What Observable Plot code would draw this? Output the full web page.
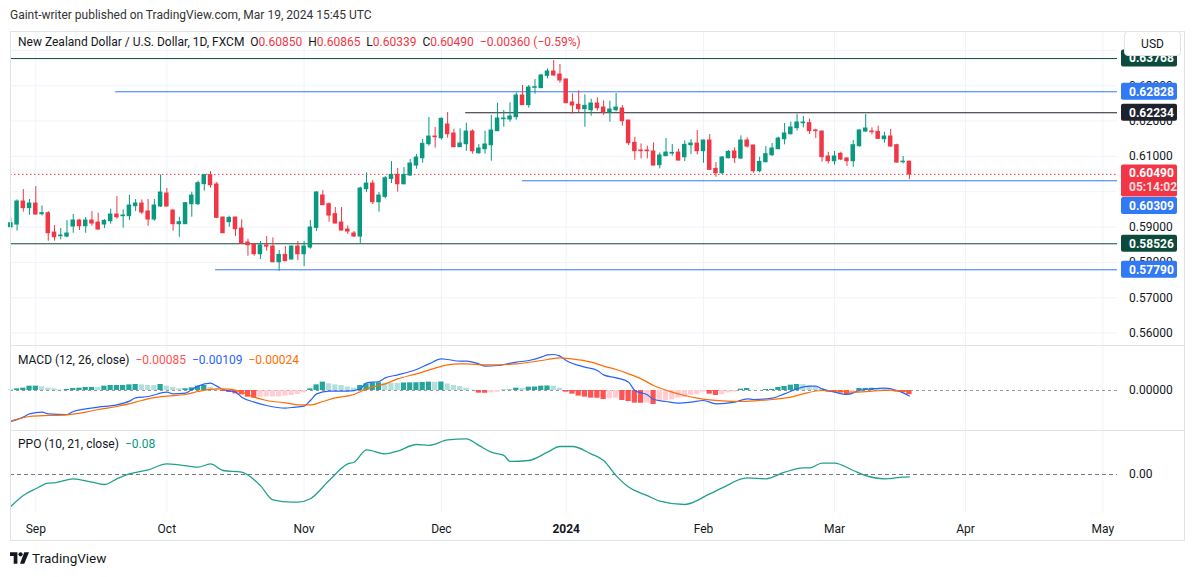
<!DOCTYPE html>
<html><head><meta charset="utf-8">
<script src="https://cdn.jsdelivr.net/npm/d3@7"></script>
<script src="https://cdn.jsdelivr.net/npm/@observablehq/plot@0.6"></script>
<style>
body{margin:0;background:#fff;font-family:Roboto,"Noto Sans",sans-serif;color:#131722;}
#root{position:relative;width:1195px;height:577px;overflow:hidden;background:#fff;}
.abs{position:absolute;white-space:nowrap;line-height:16px;}
.r{color:#f23645}
svg{overflow:visible}
</style></head><body><div id="root"></div>
<script>
// ---------- DATA ----------
const firstDate = "2023-08-28";
const holidays = ["2023-12-25", "2024-01-01"];
const monthTickDates = ["2023-09-01","2023-10-02","2023-11-01","2023-12-01","2024-01-02","2024-02-01","2024-03-01","2024-04-01","2024-05-01"];
const monthTickLabels = ["Sep","Oct","Nov","Dec","2024","Feb","Mar","Apr","May"];

const opens = [0.58995,0.59071,0.59722,0.59533,0.59665,0.59363,0.59391,0.58844,0.58740,0.58731,
0.59014,0.59184,0.59023,0.59184,0.59127,0.59071,0.59165,0.59354,0.59307,0.59307,
0.59590,0.59665,0.59439,0.59212,0.59580,0.59948,0.59467,0.59080,0.59080,0.59646,
0.59646,0.60213,0.60468,0.60203,0.59269,0.59137,0.59269,0.58957,0.58561,0.58504,
0.58230,0.58476,0.58447,0.58004,0.58211,0.58080,0.58447,0.58230,0.58419,0.58976,
0.59892,0.59646,0.59363,0.59127,0.58929,0.58816,0.58731,0.60070,0.60230,0.59702,
0.59853,0.60362,0.60476,0.60211,0.60457,0.60740,0.60948,0.61344,0.61561,0.61514,
0.61901,0.61646,0.61260,0.61344,0.61703,0.61089,0.61203,0.61316,0.61712,0.62052,
0.62043,0.62109,0.62722,0.62449,0.62940,0.62930,0.63279,0.63402,0.63317,0.63175,
0.62524,0.62458,0.62335,0.62307,0.62496,0.62382,0.62240,0.62307,0.62354,0.62014,
0.61382,0.61165,0.61165,0.61136,0.60750,0.61004,0.61080,0.61108,0.60976,0.61316,
0.61363,0.61146,0.61448,0.60645,0.60523,0.60947,0.61137,0.60939,0.61448,0.61307,
0.60580,0.60835,0.61033,0.61203,0.61486,0.61628,0.61798,0.61940,0.61940,0.61732,
0.61703,0.60996,0.60863,0.61071,0.60939,0.60863,0.61288,0.61703,0.61703,0.61694,
0.61486,0.61562,0.61316,0.60835,0.60850];
const highs = [0.59259,0.59769,0.60062,0.59779,0.60147,0.59599,0.59439,0.59042,0.58957,0.59184,
0.59354,0.59212,0.59269,0.59439,0.59391,0.59212,0.59505,0.59863,0.59486,0.59901,
0.59779,0.59769,0.59779,0.59779,0.60477,0.60090,0.59480,0.59278,0.59694,0.59986,
0.60298,0.60480,0.60571,0.60260,0.59278,0.59307,0.59278,0.59203,0.58655,0.58510,
0.58590,0.58731,0.58693,0.58334,0.58447,0.58460,0.58590,0.58590,0.59184,0.60005,
0.60033,0.59684,0.59552,0.59552,0.59033,0.58872,0.60128,0.60532,0.60315,0.59975,
0.60428,0.60853,0.60655,0.60683,0.60910,0.61052,0.61476,0.62099,0.61816,0.62090,
0.62240,0.61769,0.61778,0.61939,0.61750,0.61335,0.61712,0.62156,0.62505,0.62298,
0.62515,0.62798,0.63006,0.63006,0.63176,0.63317,0.63478,0.63713,0.63600,0.63190,
0.62769,0.62854,0.62741,0.62618,0.62656,0.62571,0.62562,0.62779,0.62439,0.62020,
0.61542,0.61353,0.61287,0.61382,0.61099,0.61504,0.61335,0.61202,0.61438,0.61476,
0.61731,0.61460,0.61618,0.60825,0.60995,0.61165,0.61241,0.61580,0.61524,0.61320,
0.60977,0.61279,0.61364,0.61543,0.61930,0.61968,0.62185,0.62128,0.62053,0.61769,
0.61710,0.61118,0.61137,0.61118,0.60958,0.61448,0.61751,0.62185,0.61807,0.61855,
0.61685,0.61760,0.61345,0.60996,0.60865];
const lows = [0.58948,0.58882,0.59420,0.59335,0.59340,0.59316,0.58599,0.58599,0.58636,0.58693,
0.58825,0.58901,0.58825,0.59023,0.58920,0.58957,0.59080,0.59222,0.58967,0.59184,
0.59439,0.59354,0.59023,0.59165,0.59552,0.59570,0.58882,0.58712,0.59070,0.59278,
0.59609,0.60014,0.60099,0.59250,0.58810,0.58995,0.58731,0.58520,0.58174,0.58174,
0.58080,0.58315,0.57990,0.57749,0.58020,0.58070,0.58051,0.57881,0.58372,0.58872,
0.59610,0.59137,0.59090,0.58890,0.58787,0.58712,0.58532,0.59975,0.59635,0.59418,
0.59796,0.60230,0.59985,0.60192,0.60438,0.60636,0.60806,0.61288,0.61231,0.61457,
0.61514,0.61250,0.61250,0.61146,0.61061,0.61061,0.61061,0.60863,0.61700,0.61826,
0.61967,0.62024,0.62440,0.62364,0.62760,0.62920,0.63194,0.63270,0.63072,0.62490,
0.62194,0.62231,0.61826,0.62137,0.62288,0.62156,0.61967,0.62259,0.61854,0.61306,
0.60891,0.60929,0.60929,0.60730,0.60645,0.61000,0.61004,0.60872,0.60853,0.61051,
0.61042,0.60806,0.60600,0.60409,0.60485,0.60929,0.60797,0.60910,0.61231,0.60523,
0.60533,0.60816,0.60995,0.61190,0.61326,0.61600,0.61713,0.61807,0.61618,0.61505,
0.60835,0.60788,0.60750,0.60882,0.60712,0.60693,0.61260,0.61685,0.61610,0.61477,
0.61373,0.61260,0.60810,0.60788,0.60339];
const closes = [0.59108,0.59722,0.59533,0.59665,0.59354,0.59391,0.58825,0.58712,0.58759,0.58816,
0.59184,0.59023,0.59184,0.59099,0.58929,0.59174,0.59354,0.59278,0.59325,0.59609,
0.59665,0.59410,0.59212,0.59609,0.59977,0.59580,0.59080,0.59137,0.59675,0.59892,
0.60241,0.60468,0.60184,0.59259,0.58825,0.59259,0.58938,0.58532,0.58485,0.58230,
0.58476,0.58447,0.58004,0.58211,0.58032,0.58447,0.58230,0.58447,0.58986,0.59977,
0.59618,0.59325,0.59099,0.58901,0.58872,0.58731,0.60090,0.60230,0.59702,0.59890,
0.60380,0.60476,0.60211,0.60476,0.60797,0.60967,0.61354,0.61561,0.61542,0.62062,
0.61627,0.61260,0.61363,0.61703,0.61146,0.61221,0.61335,0.61731,0.62071,0.62071,
0.62128,0.62722,0.62449,0.62949,0.62958,0.63289,0.63402,0.63289,0.63147,0.62505,
0.62439,0.62335,0.62430,0.62496,0.62363,0.62240,0.62326,0.62382,0.61995,0.61372,
0.61146,0.61146,0.61146,0.60740,0.61023,0.61108,0.61099,0.60881,0.61325,0.61363,
0.61146,0.61448,0.60617,0.60523,0.60966,0.61127,0.60948,0.61448,0.61279,0.60580,
0.60844,0.61062,0.61222,0.61505,0.61647,0.61817,0.61958,0.61958,0.61713,0.61713,
0.60977,0.60863,0.60996,0.60911,0.60863,0.61316,0.61732,0.61788,0.61685,0.61496,
0.61562,0.61279,0.60825,0.60850,0.60490];

// horizontal levels drawn on the chart
const levelPrices = [0.63768, 0.62828, 0.62234, 0.60309, 0.58526, 0.57790];
const levelStartBars = [null, 16.8, 72.9, 82.0, null, 32.8];
const levelKinds = ["green", "blue", "black", "blue", "green", "blue"];
const priceTicks = [0.56, 0.57, 0.58, 0.59, 0.60, 0.61, 0.62, 0.63, 0.64];

// MACD (12, 26, close)
const histValues = [0.00007,0.00033,0.00047,0.00087,0.00087,0.00073,0.00047,0.00033,0.00007,0.0002,
0.0004,0.00047,0.0006,0.00062,0.00058,0.00087,0.001,0.00101,0.00102,0.00113,
0.0012,0.00113,0.001,0.00098,0.0012,0.00087,0.0006,0.00033,0.00035,0.00053,
0.00087,0.001,0.0006,0.0002,-0.0002,-0.0004,-0.00067,-0.00087,-0.00133,-0.00153,
-0.00133,-0.0013,-0.0013,-0.00127,-0.00113,-0.001,-0.0008,-0.00047,0.00033,0.00113,
0.00167,0.00133,0.00113,0.001,0.00067,0.00047,0.001,0.00133,0.0015,0.00155,
0.00148,0.00145,0.0014,0.0015,0.00153,0.00155,0.0016,0.00167,0.00165,0.0017,
0.0013,0.001,0.0008,0.00047,0.00007,-0.00053,-0.00055,-0.00047,-0.00033,0.00007,
0.0001,0.00047,0.00045,0.00067,0.0007,0.00087,0.0009,0.00087,0.00047,-0.00033,
-0.00073,-0.00113,-0.00133,-0.00153,-0.00155,-0.0018,-0.00167,-0.00153,-0.002,-0.0022,
-0.00253,-0.00255,-0.0025,-0.0028,-0.0022,-0.002,-0.00187,-0.00153,-0.0014,-0.001,
-0.00087,-0.00033,-0.00073,-0.001,-0.00087,-0.00047,-0.00033,0.00027,0.0004,0.00007,
0.00005,0.0002,0.00022,0.0006,0.0008,0.00107,0.0012,0.00118,0.00087,0.00067,
0.00033,-0.00033,-0.0004,-0.00053,-0.0008,-0.00033,0.0004,0.00042,0.00045,0.00033,
0.0002,0.00007,-0.00033,-0.00047,-0.00085];
const macdBars = [0,2,3,5,6,9,10,12,14,17,19,20,22,25,26,28,29,30,32,33,34,36,37,39,41,44,45,47,48,49,51,54,56,57,59,60,62,65,67,69,70,72,73,75,76,78,79,81,83,85,86,87,88,89,92,94,95,97,99,100,102,103,105,107,109,111,113,116,118,119,122,124,126,128,129,130,132,134,136,138,140,142,143,144];
const macdValues = [-0.0062,-0.00533,-0.00467,-0.00433,-0.00467,-0.0048,-0.0042,-0.00367,-0.00333,-0.00287,-0.00213,-0.00147,-0.0012,-0.00033,-0.00067,-0.00053,0.0002,0.00087,0.00147,0.00087,0.0002,-0.00033,-0.00133,-0.00233,-0.003,-0.00353,-0.0034,-0.00313,-0.002,-0.00067,-0.00013,-0.00013,0.00033,0.00153,0.0018,0.00253,0.00313,0.0042,0.00533,0.00633,0.0062,0.00587,0.00587,0.00533,0.00487,0.005,0.0052,0.00567,0.006,0.00667,0.00713,0.0072,0.00687,0.006,0.00467,0.004,0.00313,0.00253,0.00167,0,-0.00087,-0.0018,-0.0022,-0.00253,-0.00233,-0.002,-0.00267,-0.00233,-0.00167,-0.0018,-0.00153,-0.00067,0.00033,0.00087,0.00087,0.00033,-0.00033,-0.0008,0,0.00033,0.00047,0,-0.00047,-0.00109];
const signalBars = [0,3,6,9,12,14,17,20,22,25,28,30,33,35,37,39,41,44,46,48,50,52,55,57,60,62,65,68,70,72,73,76,78,81,84,86,88,91,93,95,97,99,101,103,106,108,110,112,114,117,119,122,125,127,130,133,135,138,141,144];
const signalValues = [-0.00607,-0.0052,-0.005,-0.00487,-0.00433,-0.0038,-0.0032,-0.00233,-0.00167,-0.00113,-0.0008,-0.0002,0.00033,0.00027,-0.00033,-0.00133,-0.002,-0.00247,-0.00287,-0.00287,-0.0022,-0.00147,-0.0008,0.00033,0.00133,0.00233,0.00333,0.00447,0.00513,0.00533,0.00533,0.00513,0.00513,0.00533,0.0058,0.0062,0.00653,0.00613,0.00567,0.00487,0.0042,0.00333,0.00233,0.001,-0.00033,-0.001,-0.00153,-0.00187,-0.00207,-0.0022,-0.00207,-0.0018,-0.00133,-0.00067,0,-0.00013,-0.00033,-0.00013,0.00007,-0.00024];

// PPO (10, 21, close), percent
const ppoBars = [0,2,4,6,7,10,13,15,17,19,22,25,27,30,32,34,37,40,42,45,46,48,51,54,55,57,60,62,65,67,70,73,75,77,79,80,83,86,88,90,93,95,97,99,102,104,108,112,114,118,121,124,127,128,130,132,135,137,140,143,144];
const ppoValues = [-1.12,-0.735,-0.5,-0.3,-0.29,-0.15,-0.27,-0.35,-0.15,0.02,0.16,0.37,0.34,0.26,0.37,0.14,0.08,-0.39,-0.89,-0.97,-0.97,-0.85,-0.21,0.37,0.43,0.86,0.72,0.82,1.05,1.02,1.21,1.25,1.02,0.78,0.67,0.46,0.49,0.78,0.98,0.98,0.72,0.49,-0.04,-0.44,-0.74,-0.93,-1.05,-0.68,-0.47,-0.12,-0.15,0.08,0.23,0.23,0.40,0.40,0.14,-0.04,-0.15,-0.09,-0.08];

// ---------- STYLE ----------
const UP = "#089981", DOWN = "#f23645";
const LEVEL_COLORS = {green: "#0c4b3b", blue: "#3179f5", black: "#1e222d"};
const GRID = "#f0f3fa";
const FONT = 'Roboto, "Noto Sans", sans-serif';
const W = 1175, MR = 68, LEFT = 10;
const xDomain = [-0.054, 177.35];

// ---------- helpers ----------
function barIndex(ds) {
  const end = new Date(ds + "T00:00:00Z");
  let n = 0;
  for (let d = new Date(firstDate + "T00:00:00Z"); d < end; d.setUTCDate(d.getUTCDate() + 1)) {
    const wd = d.getUTCDay();
    if (wd === 0 || wd === 6) continue;
    if (holidays.includes(d.toISOString().slice(0, 10))) continue;
    n++;
  }
  return n;
}
const monthIdx = monthTickDates.map(barIndex);
const fmtMinus = s => s.replace("-", "\u2212");

const candles = opens.map((o, i) => ({i, open: o, high: highs[i], low: lows[i], close: closes[i]}));
const candleColor = d => d.close >= d.open ? UP : DOWN;
const levels = levelPrices.map((p, k) => ({price: p, start: levelStartBars[k] ?? xDomain[0], color: LEVEL_COLORS[levelKinds[k]]}));
const last = candles[candles.length - 1];
const prev = candles[candles.length - 2];

const hist = histValues.map((v, i) => ({i, v, prev: i ? histValues[i - 1] : v}));
const histColor = d => d.v >= 0 ? (d.v >= d.prev ? "#26a69a" : "#b2dfdb") : (d.v < d.prev ? "#ff5252" : "#ffcdd2");
const macdPts = macdBars.map((b, k) => ({i: b, v: macdValues[k]}));
const signalPts = signalBars.map((b, k) => ({i: b, v: signalValues[k]}));
const ppoPts = ppoBars.map((b, k) => ({i: b, v: ppoValues[k]}));

const root = document.getElementById("root");
function div(html, style) {
  const e = document.createElement("div");
  e.className = "abs"; e.innerHTML = html; e.style.cssText += style;
  root.appendChild(e); return e;
}
function place(svg, top) {
  svg.style.position = "absolute"; svg.style.left = LEFT + "px"; svg.style.top = top + "px";
  root.appendChild(svg);
}
const AX = 1119; // start of right-axis text inside each svg

// ---------- PRICE PANE ----------
const price = Plot.plot({
  width: W, height: 314, marginLeft: 0, marginRight: MR, marginTop: 0, marginBottom: 0,
  style: {fontFamily: FONT, overflow: "visible"},
  x: {domain: xDomain, axis: null},
  y: {domain: [0.55647, 0.64534], axis: null},
  marks: [
    Plot.ruleY(priceTicks, {stroke: GRID}),
    Plot.ruleX(monthIdx, {stroke: GRID}),
    Plot.ruleY(levels, {y: "price", x1: "start", x2: () => xDomain[1], stroke: "color", strokeWidth: 1}),
    Plot.ruleY([last.close], {stroke: DOWN, strokeDasharray: "1.5,2.5", strokeWidth: 1}),
    Plot.ruleX(candles, {x: "i", y1: "low", y2: "high", stroke: candleColor, strokeWidth: 1}),
    Plot.rect(candles, {x1: d => d.i - 0.36, x2: d => d.i + 0.36, y1: "open", y2: "close", fill: candleColor, insetTop: -0.5, insetBottom: -0.5})
  ]
});
place(price, 31);
{
  const ys = price.scale("y");
  const g = d3.select(price).append("g").attr("font-family", FONT).attr("font-size", 12).attr("text-anchor", "start");
  g.selectAll("text.tk").data(priceTicks).join("text").attr("class", "tk")
    .attr("x", AX).attr("y", d => ys.apply(d)).attr("dy", "0.36em").attr("fill", "#131722")
    .text(d => d.toFixed(5));
  const labs = levels.map(l => ({y: ys.apply(l.price), h: 17, color: l.color, lines: [l.price.toFixed(5)]}));
  labs.push({y: ys.apply(last.close), h: 32, color: DOWN, lines: [last.close.toFixed(5), "05:14:02"], cur: true});
  labs.sort((a, b) => a.y - b.y);
  let bottom = -Infinity;
  for (const l of labs) {
    let top = l.y - (l.cur ? 9.5 : 8.5);
    if (top < bottom + 0.5) top = bottom + 0.5;
    l.top = top; bottom = top + l.h;
  }
  for (const l of labs) {
    const lg = g.append("g");
    lg.append("rect").attr("x", 1111).attr("y", l.top).attr("width", 56).attr("height", l.h).attr("rx", 2).attr("fill", l.color);
    l.lines.forEach((t, k) => {
      lg.append("text").attr("x", AX).attr("y", l.top + 8.5 + k * 14).attr("dy", "0.36em")
        .attr("fill", "#fff").attr("fill-opacity", k ? 0.85 : 1).attr("font-weight", "bold").text(t);
    });
  }
}

// ---------- MACD PANE ----------
const macd = Plot.plot({
  width: W, height: 85, marginLeft: 0, marginRight: MR, marginTop: 0, marginBottom: 0,
  style: {fontFamily: FONT, overflow: "visible"},
  x: {domain: xDomain, axis: null},
  y: {domain: [-0.008, 0.009], axis: null},
  marks: [
    Plot.ruleX(monthIdx, {stroke: GRID}),
    Plot.ruleY([0], {stroke: "#9598a1", strokeDasharray: "3,3", strokeWidth: 1}),
    Plot.rect(hist, {x1: d => d.i - 0.42, x2: d => d.i + 0.42, y1: () => 0, y2: "v", fill: histColor}),
    Plot.line(macdPts, {x: "i", y: "v", stroke: "#2962ff", strokeWidth: 1.2, curve: "monotone-x"}),
    Plot.line(signalPts, {x: "i", y: "v", stroke: "#ff6d00", strokeWidth: 1.2, curve: "monotone-x"})
  ]
});
place(macd, 345);
d3.select(macd).append("text").attr("x", AX).attr("y", macd.scale("y").apply(0)).attr("dy", "0.36em").attr("text-anchor", "start")
  .attr("font-family", FONT).attr("font-size", 12).attr("fill", "#131722").text((0).toFixed(5));

// ---------- PPO PANE + TIME AXIS ----------
const ppo = Plot.plot({
  width: W, height: 111, marginLeft: 0, marginRight: MR, marginTop: 0, marginBottom: 29,
  style: {fontFamily: FONT, overflow: "visible", color: "#131722"},
  x: {domain: xDomain},
  y: {domain: [-1.33, 1.54], axis: null},
  marks: [
    Plot.ruleX(monthIdx, {stroke: GRID}),
    Plot.ruleY([0], {stroke: "#787b86", strokeDasharray: "4,3", strokeWidth: 1}),
    Plot.line(ppoPts, {x: "i", y: "v", stroke: "#22a08e", strokeWidth: 1.3, curve: "monotone-x"}),
    Plot.axisX(monthIdx, {tickSize: 0, tickPadding: 12, fontSize: 12, label: null,
      tickFormat: d => monthTickLabels[monthIdx.indexOf(d)]})
  ]
});
place(ppo, 430);
d3.select(ppo).selectAll("text").filter(function () { return this.textContent === "2024"; }).attr("font-weight", "bold");
d3.select(ppo).append("text").attr("x", AX).attr("y", ppo.scale("y").apply(0)).attr("dy", "0.36em").attr("text-anchor", "start")
  .attr("font-family", FONT).attr("font-size", 12).attr("fill", "#131722").text((0).toFixed(2));

// ---------- FRAME, SEPARATORS, TEXT ----------
div("", "left:10px;top:31px;width:1175px;height:510px;border:1px solid #e0e3eb;box-sizing:border-box;pointer-events:none;");
div("", "left:10px;top:345px;width:1175px;height:1px;background:#dfe2ea;");
div("", "left:10px;top:430px;width:1175px;height:1px;background:#dfe2ea;");
div("USD", "left:1124px;top:31px;width:57px;height:25px;line-height:25px;text-align:center;font-size:12px;background:#fff;border:1px solid #e0e3eb;border-radius:4px;box-sizing:border-box;");

div("Gaint-writer published on TradingView.com, Mar 19, 2024 15:45 UTC", "left:10px;top:7px;font-size:12px;color:#333;");

const chg = last.close - prev.close;
div(`New Zealand Dollar / U.S. Dollar, 1D, FXCM&nbsp;&nbsp;O<span class="r">${last.open.toFixed(5)}</span>&nbsp;&nbsp;H<span class="r">${last.high.toFixed(5)}</span>&nbsp;&nbsp;L<span class="r">${last.low.toFixed(5)}</span>&nbsp;&nbsp;C<span class="r">${last.close.toFixed(5)}</span>&nbsp;&nbsp;<span class="r">${fmtMinus(chg.toFixed(5))} (${fmtMinus((chg / prev.close * 100).toFixed(2))}%)</span>`,
  "left:18px;top:34px;font-size:12px;");

div(`MACD (12, 26, close)&nbsp;&nbsp;<span style="color:#ff5252">${fmtMinus(histValues[histValues.length-1].toFixed(5))}</span>&nbsp;&nbsp;<span style="color:#2962ff">${fmtMinus(macdValues[macdValues.length-1].toFixed(5))}</span>&nbsp;&nbsp;<span style="color:#ff6d00">${fmtMinus(signalValues[signalValues.length-1].toFixed(5))}</span>`,
  "left:18px;top:352px;font-size:12px;");
div(`PPO (10, 21, close)&nbsp;&nbsp;<span style="color:#089981">${fmtMinus(ppoValues[ppoValues.length-1].toFixed(2))}</span>`,
  "left:18px;top:436px;font-size:12px;");

div(`<svg width="19" height="12" viewBox="0 0 36 22" style="vertical-align:-1px"><path d="M0 0h14v22H7V7H0z" fill="#131722"/><circle cx="20" cy="4" r="4" fill="#131722"/><path d="M27 0h9l-9 22h-8z" fill="#131722"/></svg> TradingView`,
  "left:10px;top:550px;font-size:13.5px;color:#131722;");
</script></body></html>
